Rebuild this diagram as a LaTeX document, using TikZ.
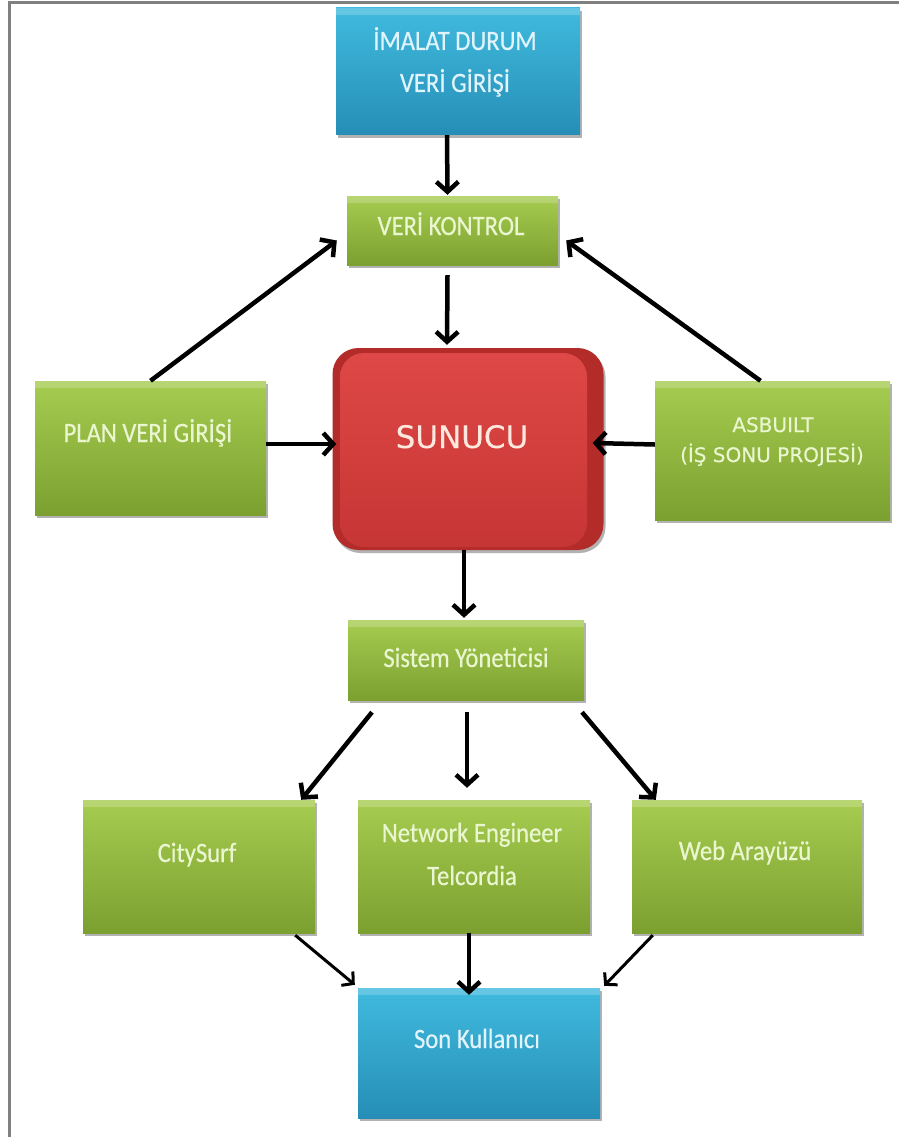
\documentclass[tikz,border=0pt]{standalone}
\usepackage{fontspec}
\setmainfont{Carlito}[FakeStretch=0.88, FakeBold=0.4]
\newfontfamily\widefont{DejaVu Sans}[FakeBold=0.3]
\usetikzlibrary{arrows.meta,shadows}

\definecolor{grnTop}{RGB}{166,204,80}
\definecolor{grnMid}{RGB}{146,189,60}
\definecolor{grnBot}{RGB}{124,160,48}
\definecolor{bluTop}{RGB}{64,186,222}
\definecolor{bluMid}{RGB}{46,168,208}
\definecolor{bluBot}{RGB}{38,142,182}
\definecolor{redTop}{RGB}{222,72,70}
\definecolor{redBot}{RGB}{198,54,52}
\definecolor{redBack}{RGB}{180,44,42}
\definecolor{lblGreen}{RGB}{234,246,208}
\definecolor{lblBlue}{RGB}{226,244,251}
\definecolor{lblRed}{RGB}{252,232,222}
\definecolor{frameGray}{RGB}{128,128,128}

\tikzset{
  box/.style={rectangle, draw=none, inner sep=0pt,
    drop shadow={shadow xshift=2pt, shadow yshift=-3pt, opacity=0.3, fill=black},
    path picture={\fill[white,opacity=0.2]
      (path picture bounding box.north west) rectangle
      ([yshift=-7pt]path picture bounding box.north east);}},
  greenbox/.style={box, top color=grnTop, middle color=grnMid, bottom color=grnBot},
  bluebox/.style={box, top color=bluTop, middle color=bluMid, bottom color=bluBot},
  lbl/.style={anchor=base, inner sep=0pt, font=\fontsize{28}{32}\selectfont},
  glbl/.style={lbl, text=lblGreen},
  blbl/.style={lbl, text=lblBlue},
  arr/.style={line width=4.5pt, -{Straight Barb[length=10pt,width=22pt]}},
  thinarr/.style={line width=3pt, -{Straight Barb[length=8pt,width=18pt]}}
}

\begin{document}
\begin{tikzpicture}[x=1pt,y=-1pt]
\useasboundingbox (0,0) rectangle (899,1137);
\fill[white] (0,0) rectangle (899,1137);

% outer frame (left and top edges)
\draw[frameGray, line width=3pt] (9,1137) -- (9,3) -- (899,3);

% boxes
\node[bluebox, minimum width=244pt, minimum height=127pt] (imalat) at (458,71.5) {};
\node[greenbox, minimum width=211pt, minimum height=69pt] (verikontrol) at (452.5,230.5) {};
\node[greenbox, minimum width=231pt, minimum height=134pt] (plan) at (150.5,448) {};
\node[greenbox, minimum width=235pt, minimum height=139pt] (asbuilt) at (772.5,450.5) {};
\node[rectangle, rounded corners=26pt, fill=redBack, minimum width=271pt, minimum height=202pt,
      drop shadow={shadow xshift=2pt, shadow yshift=-3pt, opacity=0.3, fill=black}] (sunucuback) at (468,449) {};
\node[rectangle, rounded corners=24pt, top color=redTop, bottom color=redBot,
      minimum width=247pt, minimum height=194pt] (sunucu) at (463.5,450) {};
\node[greenbox, minimum width=236pt, minimum height=80pt] (sistem) at (466,660) {};
\node[greenbox, minimum width=232pt, minimum height=133pt] (citysurf) at (199,866.5) {};
\node[greenbox, minimum width=232pt, minimum height=133pt] (network) at (474,866.5) {};
\node[greenbox, minimum width=230pt, minimum height=133pt] (web) at (747,866.5) {};
\node[bluebox, minimum width=242pt, minimum height=130pt] (son) at (479,1053) {};

% labels
\node[blbl] (imalatA) at (455,50) {İMALAT DURUM};
\node[blbl] (imalatB) at (455,92) {VERİ GİRİŞİ};
\node[glbl] (verikontrolL) at (451,235) {VERİ KONTROL};
\node[glbl] (planL) at (148,442) {PLAN VERİ GİRİŞİ};
\node[lbl, text=lblRed, font=\widefont\fontsize{31}{36}\selectfont] (sunucuL) at (462,448) {SUNUCU};
\node[lbl, text=lblGreen, font=\widefont\fontsize{20}{24}\selectfont] (asbuiltA) at (773,432) {ASBUILT};
\node[lbl, text=lblGreen, font=\widefont\fontsize{20}{24}\selectfont] (asbuiltB) at (772,462) {(İŞ SONU PROJESİ)};
\node[glbl] (sistemL) at (466,667) {Sistem Yöneticisi};
\node[glbl] (citysurfL) at (197,862) {CitySurf};
\node[glbl] (networkA) at (472,842) {Network Engineer};
\node[glbl] (networkB) at (472,885) {Telcordia};
\node[glbl] (webL) at (745,860) {Web Arayüzü};
\node[blbl] (sonL) at (477,1048) {Son Kullanıcı};

% connectors
\draw[arr] ([xshift=-11pt]imalat.south) -- ([xshift=-5pt,yshift=1pt]verikontrol.north);
\draw[arr] (plan.north) -- ([xshift=-10pt,yshift=-10pt]verikontrol.west);
\draw[arr] ([xshift=-12pt]asbuilt.north) -- ([xshift=8pt,yshift=-10pt]verikontrol.east);
\draw[arr] ([xshift=-5pt,yshift=-10pt]verikontrol.south) -- ([xshift=-21pt,yshift=3pt]sunucuback.north);
\draw[arr] ([yshift=4pt]plan.east) -- ([xshift=4pt,yshift=5pt]sunucuback.west);
\draw[arr] ([yshift=6pt]asbuilt.west) -- ([xshift=-11pt,yshift=6pt]sunucuback.east);
\draw[arr] ([xshift=-4pt]sunucuback.south) -- ([xshift=-2pt,yshift=2pt]sistem.north);
\draw[arr] ([xshift=-94pt,yshift=-12pt]sistem.south) -- ([xshift=-14pt]citysurf.north east);
\draw[arr] ([xshift=1pt,yshift=-12pt]sistem.south) -- ([xshift=-7pt,yshift=12pt]network.north);
\draw[arr] ([xshift=116pt,yshift=-12pt]sistem.south) -- ([xshift=24pt]web.north west);
\draw[thinarr] ([xshift=-20pt,yshift=-2pt]citysurf.south east) -- ([xshift=-3pt,yshift=3pt]son.north west);
\draw[arr] ([xshift=-5pt]network.south) -- ([xshift=-10pt,yshift=-7pt]son.north);
\draw[thinarr] ([xshift=21pt,yshift=-2pt]web.south west) -- ([xshift=4pt,yshift=2pt]son.north east);
\end{tikzpicture}
\end{document}
